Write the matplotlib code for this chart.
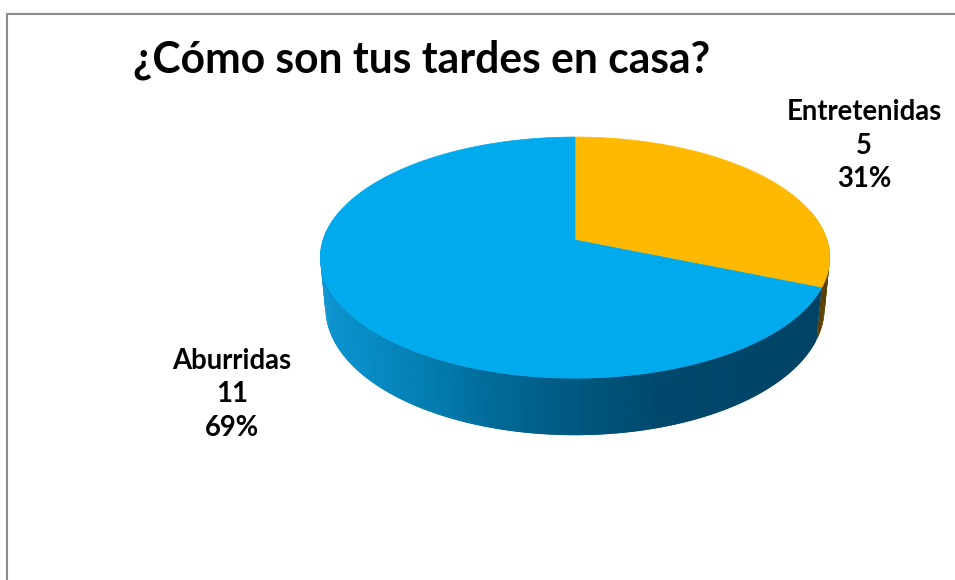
import numpy as np
import matplotlib
matplotlib.use("Agg")
import matplotlib.pyplot as plt

categories = ["Entretenidas", "Aburridas"]
values = [5, 11]
percent_labels = ["31%", "69%"]
title = "¿Cómo son tus tardes en casa?"
slice_colors = ["#FFB900", "#00AAEC"]
side_colors = ["#5A4000", None]
plt.rcParams['font.family'] = ['Lato', 'DejaVu Sans']

fig = plt.figure(figsize=(9.55, 5.80), dpi=100, facecolor="white")
ax = fig.add_axes([0, 0, 1, 1])
ax.set_xlim(0, 955)
ax.set_ylim(580, 0)
ax.axis("off")

# chart frame (only top and left visible)
ax.plot([7, 7, 955], [580, 13.5, 13.5], color="#8C8C8C", lw=1.5, solid_joinstyle="miter", zorder=1)

CX, CY, A, B, K = 575, 240, 252, 118, 0.146


def top(t):
    u, v = np.cos(t), np.sin(t)
    w = 1 + K * v
    return CX + A * u / w, CY - B * v / w


def bottom(t):
    u, v = np.cos(t), np.sin(t)
    w = 1 + K * v
    x = CX + 0.98 * A * u / w
    y = CY - B * v / w + 49 + 8 * np.maximum(-v, 0)
    return x, y


fractions = np.array(values, dtype=float) / sum(values)
start = np.pi / 2
angles = start - np.concatenate([[0], np.cumsum(fractions)]) * 2 * np.pi

shade_u = [-1.0, -0.75, -0.5, -0.25, 0.0, 0.3, 1.0]
shade_rgb = np.array([[16, 150, 212], [8, 140, 197], [3, 124, 175], [1, 104, 150],
                      [1, 88, 128], [0, 72, 108], [0, 66, 100]]) / 255


def shade(t):
    u = np.cos(t)
    return tuple(np.interp(u, shade_u, shade_rgb[:, i]) for i in range(3))


# rim: dark orange sliver and shaded blue band; each quad overlaps the next to hide seams
step = np.radians(0.75)
for i in range(len(values)):
    a0, a1 = angles[i], angles[i + 1]
    ts = np.linspace(a0, a1, int(abs(a1 - a0) / step) + 2)
    for t0, t1 in zip(ts[:-1], ts[1:]):
        if np.sin((t0 + t1) / 2) > 0.25:
            continue
        t1x = t1 - step if t1 != a1 else t1
        x0, y0 = top(t0)
        x1, y1 = top(t1x)
        x2, y2 = bottom(t1x)
        x3, y3 = bottom(t0)
        c = side_colors[i] if side_colors[i] else shade((t0 + t1) / 2)
        ax.fill([x0, x1, x2, x3], [y0, y1, y2, y3], color=c, lw=0, zorder=2)

# top faces
for i in range(len(values)):
    ts = np.linspace(angles[i], angles[i + 1], 240)
    x, y = top(ts)
    ax.fill(np.r_[CX, x], np.r_[CY, y], color=slice_colors[i], lw=0.5, zorder=3)

label_pos = [(864, 112), (232, 361)]
for cat, val, pct, (lx, ly) in zip(categories, values, percent_labels, label_pos):
    for j, s in enumerate([cat, str(val), pct]):
        ax.text(lx, ly + j * 33.5, s, ha="center", va="center", fontsize=19.8,
                fontweight="bold", color="black", zorder=4)

ax.text(133, 60, title, ha="left", va="center", fontsize=30.7, fontweight="bold", color="black", zorder=4)

fig.savefig("out.png", dpi=100, facecolor="white")
